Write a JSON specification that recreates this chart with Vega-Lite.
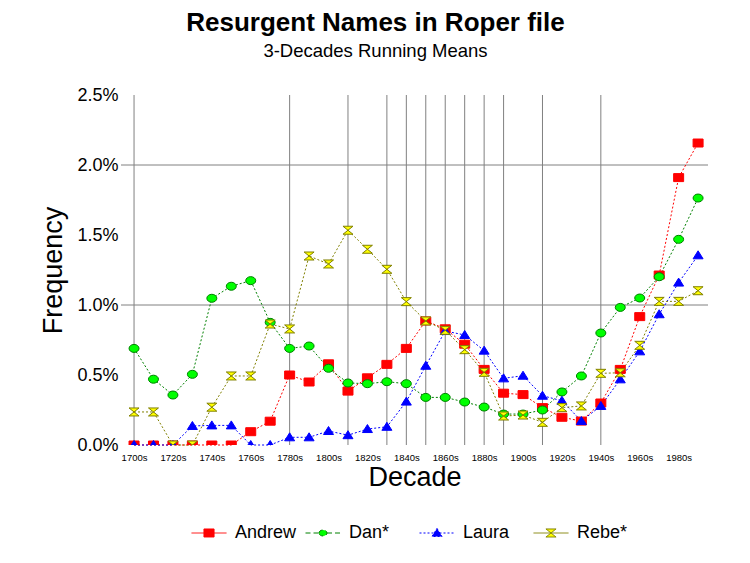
{
  "$schema": "https://vega.github.io/schema/vega-lite/v6.json",
  "width": 587,
  "height": 350,
  "autosize": {"type": "none"},
  "padding": {"left": 121, "top": 95, "right": 42, "bottom": 118},
  "background": "white",
  "title": {
    "text": "Resurgent Names in Roper file",
    "subtitle": "3-Decades Running Means",
    "font": "Liberation Sans",
    "fontSize": 26,
    "fontWeight": "bold",
    "color": "black",
    "subtitleFont": "Liberation Sans",
    "subtitleFontSize": 18.5,
    "subtitleColor": "black",
    "subtitlePadding": 6,
    "anchor": "middle",
    "dx": -39,
    "offset": 26
  },
  "config": {
    "view": {"stroke": null},
    "axis": {
      "domain": false,
      "ticks": false,
      "grid": false,
      "labelFont": "Liberation Sans",
      "titleFont": "Liberation Sans",
      "labelColor": "black",
      "titleColor": "black",
      "titleFontWeight": "normal"
    }
  },
  "resolve": {"scale": {"shape": "independent", "fill": "independent", "stroke": "independent", "strokeDash": "independent"}},
  "datasets": {
    "vgrid": [
      {"decade": 1700}, {"decade": 1780}, {"decade": 1810}, {"decade": 1830},
      {"decade": 1840}, {"decade": 1850}, {"decade": 1860}, {"decade": 1870},
      {"decade": 1880}, {"decade": 1890}, {"decade": 1910}, {"decade": 1940}
    ],
    "hgrid": [{"value": 1}, {"value": 2}],
    "names": [
      {"decade": 1700, "name": "Andrew", "value": 0},
      {"decade": 1710, "name": "Andrew", "value": 0},
      {"decade": 1720, "name": "Andrew", "value": 0},
      {"decade": 1730, "name": "Andrew", "value": 0},
      {"decade": 1740, "name": "Andrew", "value": 0},
      {"decade": 1750, "name": "Andrew", "value": 0},
      {"decade": 1760, "name": "Andrew", "value": 0.095},
      {"decade": 1770, "name": "Andrew", "value": 0.17},
      {"decade": 1780, "name": "Andrew", "value": 0.5},
      {"decade": 1790, "name": "Andrew", "value": 0.45},
      {"decade": 1800, "name": "Andrew", "value": 0.58},
      {"decade": 1810, "name": "Andrew", "value": 0.385},
      {"decade": 1820, "name": "Andrew", "value": 0.48},
      {"decade": 1830, "name": "Andrew", "value": 0.576},
      {"decade": 1840, "name": "Andrew", "value": 0.69},
      {"decade": 1850, "name": "Andrew", "value": 0.886},
      {"decade": 1860, "name": "Andrew", "value": 0.83},
      {"decade": 1870, "name": "Andrew", "value": 0.72},
      {"decade": 1880, "name": "Andrew", "value": 0.54},
      {"decade": 1890, "name": "Andrew", "value": 0.37},
      {"decade": 1900, "name": "Andrew", "value": 0.36},
      {"decade": 1910, "name": "Andrew", "value": 0.267},
      {"decade": 1920, "name": "Andrew", "value": 0.198},
      {"decade": 1930, "name": "Andrew", "value": 0.171},
      {"decade": 1940, "name": "Andrew", "value": 0.3},
      {"decade": 1950, "name": "Andrew", "value": 0.54},
      {"decade": 1960, "name": "Andrew", "value": 0.917},
      {"decade": 1970, "name": "Andrew", "value": 1.214},
      {"decade": 1980, "name": "Andrew", "value": 1.91},
      {"decade": 1990, "name": "Andrew", "value": 2.157},
      {"decade": 1700, "name": "Dan*", "value": 0.69},
      {"decade": 1710, "name": "Dan*", "value": 0.47},
      {"decade": 1720, "name": "Dan*", "value": 0.357},
      {"decade": 1730, "name": "Dan*", "value": 0.505},
      {"decade": 1740, "name": "Dan*", "value": 1.048},
      {"decade": 1750, "name": "Dan*", "value": 1.134},
      {"decade": 1760, "name": "Dan*", "value": 1.174},
      {"decade": 1770, "name": "Dan*", "value": 0.876},
      {"decade": 1780, "name": "Dan*", "value": 0.69},
      {"decade": 1790, "name": "Dan*", "value": 0.707},
      {"decade": 1800, "name": "Dan*", "value": 0.548},
      {"decade": 1810, "name": "Dan*", "value": 0.443},
      {"decade": 1820, "name": "Dan*", "value": 0.438},
      {"decade": 1830, "name": "Dan*", "value": 0.452},
      {"decade": 1840, "name": "Dan*", "value": 0.438},
      {"decade": 1850, "name": "Dan*", "value": 0.34},
      {"decade": 1860, "name": "Dan*", "value": 0.34},
      {"decade": 1870, "name": "Dan*", "value": 0.307},
      {"decade": 1880, "name": "Dan*", "value": 0.271},
      {"decade": 1890, "name": "Dan*", "value": 0.221},
      {"decade": 1900, "name": "Dan*", "value": 0.221},
      {"decade": 1910, "name": "Dan*", "value": 0.25},
      {"decade": 1920, "name": "Dan*", "value": 0.379},
      {"decade": 1930, "name": "Dan*", "value": 0.493},
      {"decade": 1940, "name": "Dan*", "value": 0.8},
      {"decade": 1950, "name": "Dan*", "value": 0.983},
      {"decade": 1960, "name": "Dan*", "value": 1.05},
      {"decade": 1970, "name": "Dan*", "value": 1.202},
      {"decade": 1980, "name": "Dan*", "value": 1.469},
      {"decade": 1990, "name": "Dan*", "value": 1.764},
      {"decade": 1700, "name": "Laura", "value": 0},
      {"decade": 1710, "name": "Laura", "value": 0},
      {"decade": 1720, "name": "Laura", "value": 0},
      {"decade": 1730, "name": "Laura", "value": 0.136},
      {"decade": 1740, "name": "Laura", "value": 0.14},
      {"decade": 1750, "name": "Laura", "value": 0.14},
      {"decade": 1760, "name": "Laura", "value": 0},
      {"decade": 1770, "name": "Laura", "value": 0},
      {"decade": 1780, "name": "Laura", "value": 0.055},
      {"decade": 1790, "name": "Laura", "value": 0.055},
      {"decade": 1800, "name": "Laura", "value": 0.1},
      {"decade": 1810, "name": "Laura", "value": 0.07},
      {"decade": 1820, "name": "Laura", "value": 0.114},
      {"decade": 1830, "name": "Laura", "value": 0.13},
      {"decade": 1840, "name": "Laura", "value": 0.31},
      {"decade": 1850, "name": "Laura", "value": 0.566},
      {"decade": 1860, "name": "Laura", "value": 0.814},
      {"decade": 1870, "name": "Laura", "value": 0.786},
      {"decade": 1880, "name": "Laura", "value": 0.674},
      {"decade": 1890, "name": "Laura", "value": 0.476},
      {"decade": 1900, "name": "Laura", "value": 0.495},
      {"decade": 1910, "name": "Laura", "value": 0.352},
      {"decade": 1920, "name": "Laura", "value": 0.316},
      {"decade": 1930, "name": "Laura", "value": 0.171},
      {"decade": 1940, "name": "Laura", "value": 0.279},
      {"decade": 1950, "name": "Laura", "value": 0.469},
      {"decade": 1960, "name": "Laura", "value": 0.669},
      {"decade": 1970, "name": "Laura", "value": 0.934},
      {"decade": 1980, "name": "Laura", "value": 1.16},
      {"decade": 1990, "name": "Laura", "value": 1.355},
      {"decade": 1700, "name": "Rebe*", "value": 0.236},
      {"decade": 1710, "name": "Rebe*", "value": 0.236},
      {"decade": 1720, "name": "Rebe*", "value": 0},
      {"decade": 1730, "name": "Rebe*", "value": 0},
      {"decade": 1740, "name": "Rebe*", "value": 0.27},
      {"decade": 1750, "name": "Rebe*", "value": 0.493},
      {"decade": 1760, "name": "Rebe*", "value": 0.493},
      {"decade": 1770, "name": "Rebe*", "value": 0.864},
      {"decade": 1780, "name": "Rebe*", "value": 0.829},
      {"decade": 1790, "name": "Rebe*", "value": 1.35},
      {"decade": 1800, "name": "Rebe*", "value": 1.293},
      {"decade": 1810, "name": "Rebe*", "value": 1.534},
      {"decade": 1820, "name": "Rebe*", "value": 1.398},
      {"decade": 1830, "name": "Rebe*", "value": 1.255},
      {"decade": 1840, "name": "Rebe*", "value": 1.024},
      {"decade": 1850, "name": "Rebe*", "value": 0.886},
      {"decade": 1860, "name": "Rebe*", "value": 0.819},
      {"decade": 1870, "name": "Rebe*", "value": 0.681},
      {"decade": 1880, "name": "Rebe*", "value": 0.519},
      {"decade": 1890, "name": "Rebe*", "value": 0.207},
      {"decade": 1900, "name": "Rebe*", "value": 0.214},
      {"decade": 1910, "name": "Rebe*", "value": 0.162},
      {"decade": 1920, "name": "Rebe*", "value": 0.267},
      {"decade": 1930, "name": "Rebe*", "value": 0.279},
      {"decade": 1940, "name": "Rebe*", "value": 0.512},
      {"decade": 1950, "name": "Rebe*", "value": 0.516},
      {"decade": 1960, "name": "Rebe*", "value": 0.712},
      {"decade": 1970, "name": "Rebe*", "value": 1.026},
      {"decade": 1980, "name": "Rebe*", "value": 1.026},
      {"decade": 1990, "name": "Rebe*", "value": 1.102}
    ]
  },
  "layer": [
    {
      "data": {"name": "hgrid"},
      "mark": {"type": "rule", "color": "#808080", "strokeWidth": 1},
      "encoding": {
        "y": {"field": "value", "type": "quantitative"}
      }
    },
    {
      "data": {"name": "vgrid"},
      "mark": {"type": "rule", "color": "#808080", "strokeWidth": 1},
      "encoding": {
        "x": {"field": "decade", "type": "quantitative"}
      }
    },
    {
      "data": {"name": "names"},
      "mark": {"type": "line", "strokeWidth": 1, "strokeDash": [2, 2]},
      "encoding": {
        "x": {
          "field": "decade",
          "type": "quantitative",
          "scale": {"domain": [1693.3, 1995.1], "nice": false, "zero": false},
          "axis": {
            "values": [1700, 1720, 1740, 1760, 1780, 1800, 1820, 1840, 1860, 1880, 1900, 1920, 1940, 1960, 1980],
            "format": "d",
            "labelExpr": "datum.label + 's'",
            "labelFontSize": 9.5,
            "labelPadding": 7,
            "title": "Decade",
            "titleFontSize": 27,
            "titlePadding": 3
          }
        },
        "y": {
          "field": "value",
          "type": "quantitative",
          "scale": {"domain": [0, 2.5], "nice": false},
          "axis": {
            "values": [0, 0.5, 1, 1.5, 2, 2.5],
            "labelExpr": "format(datum.value, '.1f') + '%'",
            "labelFontSize": 18,
            "labelPadding": 3,
            "title": "Frequency",
            "titleFontSize": 27,
            "titlePadding": 9
          }
        },
        "stroke": {
          "field": "name",
          "type": "nominal",
          "scale": {"domain": ["Andrew", "Dan*", "Laura", "Rebe*"], "range": ["#ff0000", "#008000", "#0000ff", "#808000"]},
          "legend": null
        }
      }
    },
    {
      "data": {"name": "names"},
      "mark": {"type": "point", "filled": true, "size": 100, "opacity": 1, "strokeWidth": 1, "clip": true},
      "encoding": {
        "x": {"field": "decade", "type": "quantitative"},
        "y": {"field": "value", "type": "quantitative"},
        "fill": {
          "field": "name",
          "type": "nominal",
          "scale": {"domain": ["Andrew", "Dan*", "Laura", "Rebe*"], "range": ["#ff0000", "#00ff00", "#0000ff", "#ffff00"]},
          "legend": null
        },
        "stroke": {
          "field": "name",
          "type": "nominal",
          "scale": {"domain": ["Andrew", "Dan*", "Laura", "Rebe*"], "range": ["#ff0000", "#008000", "#0000ff", "#808000"]},
          "legend": null
        },
        "shape": {
          "field": "name",
          "type": "nominal",
          "scale": {
            "domain": ["Andrew", "Dan*", "Laura", "Rebe*"],
            "range": [
              "M-1,-0.8H1V0.8H-1Z",
              "M-1,0A1,0.8 0 1,1 1,0A1,0.8 0 1,1 -1,0Z",
              "M0,-0.9L1,0.7H-1Z",
              "M-1,-0.8H1L-1,0.8H1Z"
            ]
          },
          "legend": null
        }
      }
    },
    {
      "data": {"name": "names"},
      "mark": {"type": "point", "filled": true, "size": 100, "opacity": 0, "strokeWidth": 1},
      "encoding": {
        "x": {"field": "decade", "type": "quantitative"},
        "y": {"field": "value", "type": "quantitative"},
        "fill": {
          "field": "name",
          "type": "nominal",
          "scale": {"domain": ["Andrew", "Dan*", "Laura", "Rebe*"], "range": ["#ff0000", "#00ff00", "#0000ff", "#ffff00"]}
        },
        "stroke": {
          "field": "name",
          "type": "nominal",
          "scale": {"domain": ["Andrew", "Dan*", "Laura", "Rebe*"], "range": ["#ff0000", "#008000", "#0000ff", "#808000"]}
        },
        "strokeDash": {
          "field": "name",
          "type": "nominal",
          "scale": {"domain": ["Andrew", "Dan*", "Laura", "Rebe*"], "range": [[1, 0], [5, 3], [2, 2], [1, 0]]}
        },
        "shape": {
          "field": "name",
          "type": "nominal",
          "scale": {
            "domain": ["Andrew", "Dan*", "Laura", "Rebe*"],
            "range": [
              "M-1,0H1M-0.29,-0.23H0.29V0.23H-0.29Z",
              "M-1,0H-0.23M0.23,0H1M-0.23,0A0.23,0.17 0 1,1 0.23,0A0.23,0.17 0 1,1 -0.23,0Z",
              "M-1,0H1M0,-0.26L0.29,0.2H-0.29Z",
              "M-1,0H1M-0.29,-0.23H0.29L-0.29,0.23H0.29Z"
            ]
          },
          "legend": {
            "orient": "none",
            "legendX": 70,
            "legendY": 420,
            "direction": "horizontal",
            "columns": 4,
            "gridAlign": "all",
            "columnPadding": 6,
            "padding": 0,
            "title": null,
            "symbolSize": 1225,
            "symbolOpacity": 1,
            "symbolStrokeWidth": 1,
            "labelFont": "Liberation Sans",
            "labelFontSize": 18,
            "labelColor": "black",
            "labelOffset": 8
          }
        }
      }
    }
  ]
}
